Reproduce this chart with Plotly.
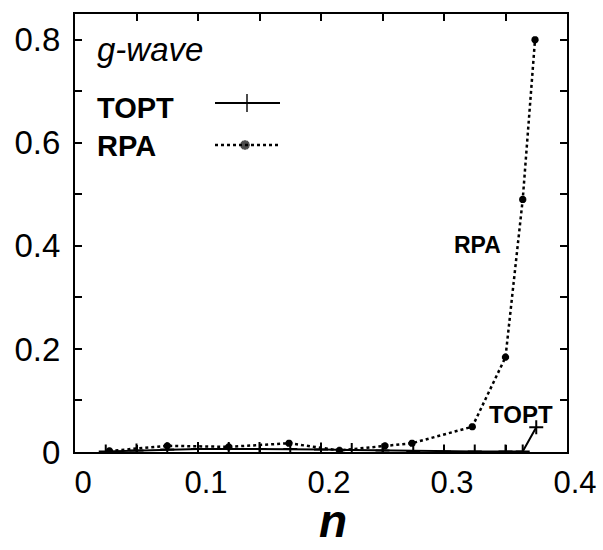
import plotly.graph_objects as go

# Pairing susceptibility (g-wave channel) vs filling n
rpa_n = [0.028, 0.075, 0.125, 0.174, 0.215, 0.252, 0.274, 0.323, 0.350, 0.364, 0.374]
rpa_val = [0.002, 0.012, 0.010, 0.017, 0.003, 0.012, 0.017, 0.049, 0.184, 0.490, 0.800]

topt_n = [0.025, 0.050, 0.075, 0.100, 0.125, 0.150, 0.175, 0.200, 0.225, 0.250,
          0.275, 0.300, 0.325, 0.350, 0.364, 0.375]
topt_val = [0.001, 0.003, 0.005, 0.006, 0.006, 0.006, 0.006, 0.005, 0.004, 0.003,
            0.002, 0.001, 0.001, 0.001, 0.001, 0.048]

x_ticks = [0, 0.1, 0.2, 0.3, 0.4]
x_tick_text = ["0", "0.1", "0.2", "0.3", "0.4"]
y_ticks = [0, 0.2, 0.4, 0.6, 0.8]
y_tick_text = ["0", "0.2", "0.4", "0.6", "0.8"]

W, H = 603, 550
L, R, T, B = 75, 36, 14, 98
PW, PH = W - L - R, H - T - B

SANS = "Liberation Sans, Arial, sans-serif"


def px(x):
    return (x - L) / PW


def py(y):
    return (H - B - y) / PH


fig = go.Figure()

fig.add_trace(go.Scatter(
    x=topt_n, y=topt_val, mode="lines+markers", name="TOPT",
    line=dict(color="black", width=2),
    marker=dict(symbol="cross-thin", size=10, line=dict(color="black", width=2)),
    showlegend=False,
))
fig.add_trace(go.Scatter(
    x=rpa_n, y=rpa_val, mode="lines+markers", name="RPA",
    line=dict(color="black", width=2.5, dash="dot"),
    marker=dict(symbol="asterisk", size=6, line=dict(color="black", width=2.5)),
    showlegend=False,
))

# key samples drawn on a hidden overlay axis measured in plot-area pixels
fig.add_trace(go.Scatter(
    x=[140, 172, 205], y=[89, 89, 89], xaxis="x2", yaxis="y2", mode="lines+markers",
    line=dict(color="black", width=2),
    marker=dict(symbol="cross-thin", size=[0, 13, 0], line=dict(color="black", width=2)),
    showlegend=False, hoverinfo="skip",
))
fig.add_trace(go.Scatter(
    x=[140, 170, 205], y=[131, 131, 131], xaxis="x2", yaxis="y2", mode="lines+markers",
    line=dict(color="black", width=2.5, dash="dot"),
    marker=dict(symbol="asterisk", size=[0, 8, 0], line=dict(color="black", width=3)),
    showlegend=False, hoverinfo="skip",
))

axis_common = dict(
    showline=True, linecolor="black", linewidth=2, mirror="allticks",
    ticks="inside", ticklen=7, tickwidth=2, tickcolor="black",
    showgrid=False, zeroline=False, automargin=False,
)

fig.update_layout(
    width=W, height=H,
    margin=dict(l=L, r=R, t=T, b=B, autoexpand=False),
    plot_bgcolor="white", paper_bgcolor="white",
    xaxis=dict(
        range=[0, 0.4], tickvals=x_ticks, ticktext=x_tick_text,
        tickfont=dict(family=SANS, size=31, color="black"),
        ticklabelshift=8, ticklabelstandoff=2, ticklabeloverflow="allow",
        minor=dict(dtick=0.05, ticks="inside", ticklen=7, tickwidth=2, tickcolor="black"),
        **axis_common,
    ),
    yaxis=dict(
        range=[0, 0.85], tickvals=y_ticks, ticktext=y_tick_text,
        tickfont=dict(family=SANS, size=33, color="black"),
        ticklabelstandoff=6, ticklabeloverflow="allow",
        minor=dict(dtick=0.1, ticks="inside", ticklen=7, tickwidth=2, tickcolor="black"),
        **axis_common,
    ),
    xaxis2=dict(range=[0, PW], overlaying="x", visible=False, fixedrange=True),
    yaxis2=dict(range=[PH, 0], overlaying="y", visible=False, fixedrange=True),
)

annotations = [
    dict(text="<i>g-wave</i>", x=px(95), y=py(49), xanchor="left", yanchor="middle",
         font=dict(family=SANS, size=33, color="black")),
    dict(text="<b>TOPT</b>", x=px(95), y=py(108), xanchor="left", yanchor="middle",
         font=dict(family=SANS, size=29, color="black")),
    dict(text="<b>RPA</b>", x=px(95), y=py(146), xanchor="left", yanchor="middle",
         font=dict(family=SANS, size=29, color="black")),
    # x-axis title
    dict(text="<b><i>n</i></b>", x=px(333), y=py(549), xanchor="center", yanchor="bottom",
         font=dict(family=SANS, size=46, color="black")),
]
for a in annotations:
    a.update(xref="paper", yref="paper", showarrow=False)

# curve labels
annotations += [
    dict(text="<b>RPA</b>", x=0.327, y=0.402, xref="x", yref="y", showarrow=False,
         font=dict(family=SANS, size=23, color="black")),
    dict(text="<b>TOPT</b>", x=0.363, y=0.072, xref="x", yref="y", showarrow=False,
         font=dict(family=SANS, size=24, color="black")),
]
fig.update_layout(annotations=annotations)

fig.write_html("out.html")
